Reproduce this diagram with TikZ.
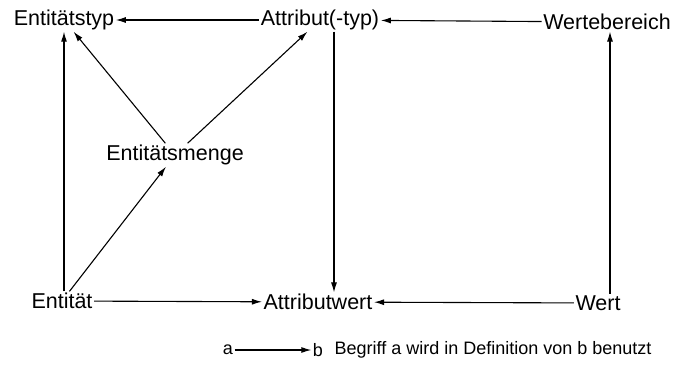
\documentclass[tikz,border=0pt]{standalone}
\usepackage{fontspec}
\setmainfont{Liberation Sans}
\usetikzlibrary{arrows.meta}
\begin{document}
\begin{tikzpicture}[x=1pt,y=-1pt,
  lbl/.style={inner sep=1.5pt, font=\fontsize{21.5}{25}\selectfont},
  leg/.style={inner sep=1.5pt, font=\fontsize{18}{22}\selectfont},
  conn/.style={line width=1.1pt, -{Latex[length=10pt,width=6pt]}}]
\useasboundingbox (0,0) rectangle (681,367);
\node[lbl] (etyp) at (64,20) {Entitätstyp};
\node[lbl] (attr) at (320,20) {Attribut(-typ)};
\node[lbl] (wb) at (607,22) {Wertebereich};
\node[lbl] (em) at (175,155) {Entitätsmenge};
\node[lbl] (ent) at (62,301) {Entität};
\node[lbl] (aw) at (318,302) {Attributwert};
\node[lbl] (wert) at (598,303) {Wert};
% legend
\node[leg] (la) at (228,350) {a};
\node[leg] (lb) at (318,350) {b};
\node[leg, anchor=west] (lt) at (333,350) {Begriff a wird in Definition von b benutzt};
% connectors
\draw[conn] (attr) -- (etyp);
\draw[conn] (wb) -- (attr);
\draw[conn] (em) -- (etyp);
\draw[conn] (em) -- (attr);
\draw[conn] (ent.north -| etyp) -- (etyp);
\draw[conn] (ent) -- (em);
\draw[conn] (ent) -- (aw);
\draw[conn] (wert) -- (aw);
\draw[conn] ([xshift=14pt]attr.south) -- ([xshift=14pt]attr.south |- aw.north);
\draw[conn] ([xshift=12pt]wert.north) -- ([xshift=12pt]wert.north |- wb.south);
\draw[conn] (la) -- (lb);
\end{tikzpicture}
\end{document}
